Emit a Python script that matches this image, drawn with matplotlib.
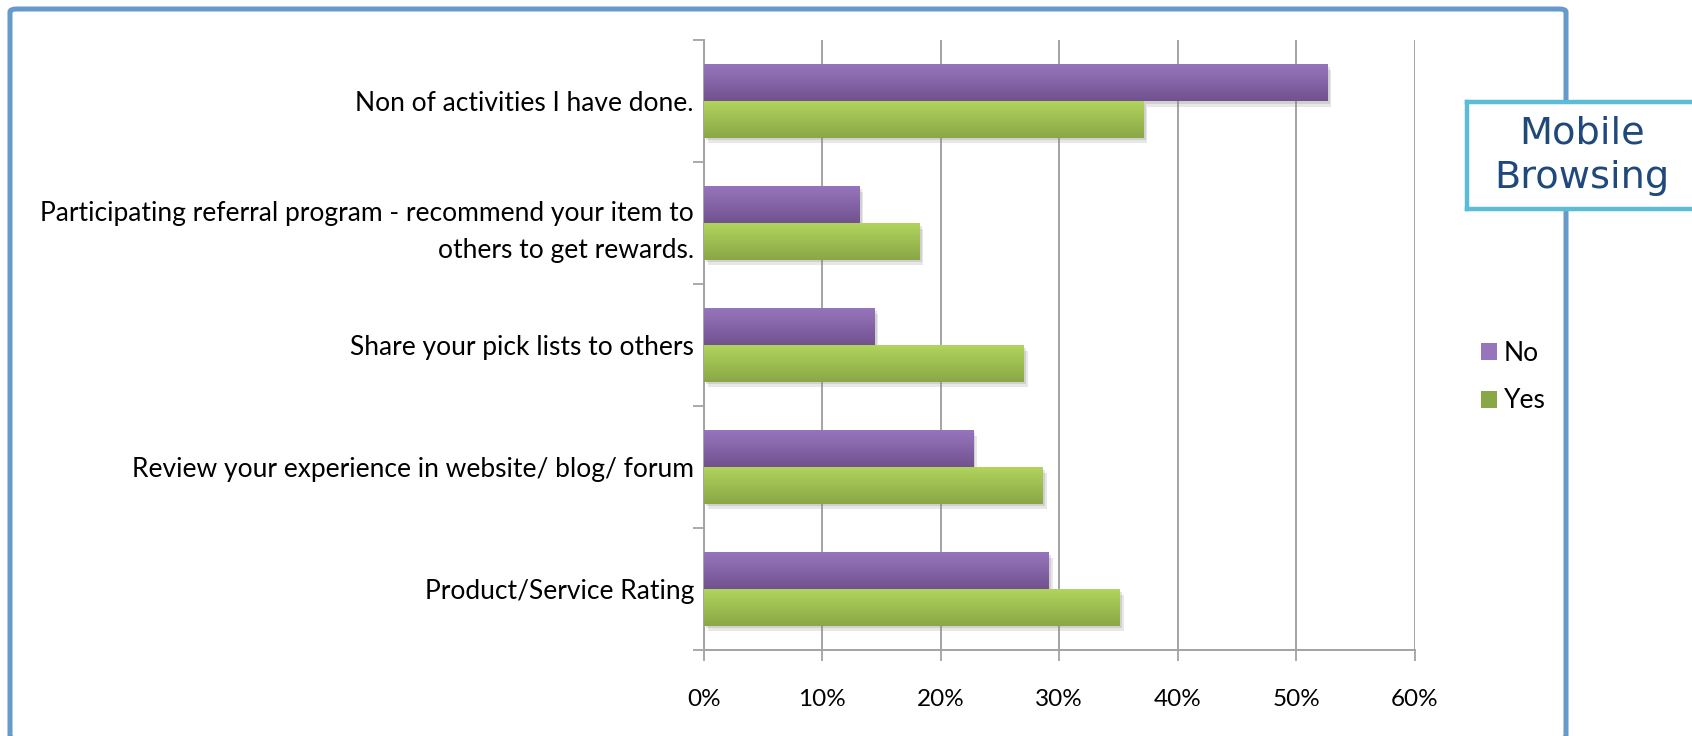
import matplotlib
matplotlib.use("Agg")
import matplotlib.pyplot as plt
import matplotlib.patheffects as pe
from matplotlib.patches import FancyBboxPatch, Rectangle
from matplotlib.lines import Line2D
from matplotlib.colors import LinearSegmentedColormap
import numpy as np

categories = [
    "Non of activities I have done.",
    "Participating referral program - recommend your item to\nothers to get rewards.",
    "Share your pick lists to others",
    "Review your experience in website/ blog/ forum",
    "Product/Service Rating",
]
no_values = [52.6, 13.1, 14.4, 22.7, 29.1]
yes_values = [37.1, 18.2, 27.0, 28.6, 35.1]
series_names = ["No", "Yes"]
xticks = [0, 10, 20, 30, 40, 50, 60]

PURPLE = ("#9775BD", "#71528F")
GREEN = ("#B0D45C", "#8AA747")
GRID = "#A3A3A3"
LABEL_FONT = "Lato"

W, H = 1692, 736
fig = plt.figure(figsize=(W / 100, H / 100), dpi=100)
fig.patch.set_facecolor("white")

# outer blue frame
frame = FancyBboxPatch((10 / W, 1 - 739 / H), 1556 / W, 730 / H,
                       boxstyle="round,pad=0,rounding_size=0.004",
                       transform=fig.transFigure, fill=False,
                       edgecolor="#6699CC", linewidth=3.6, zorder=0)
fig.patches.append(frame)

ax = fig.add_axes([703.6 / W, 1 - 650 / H, 711.1 / W, 610 / H])

y = np.arange(len(categories))
bar_h = 0.30


def gradient_bars(ys, vals, colors):
    cmap = LinearSegmentedColormap.from_list("g", colors)
    bars = ax.barh(ys, vals, height=bar_h, color=colors[0], zorder=3,
                   path_effects=[pe.SimplePatchShadow(offset=(3, -4), shadow_rgbFace="#888888", alpha=0.2),
                                 pe.SimplePatchShadow(offset=(2, -2), shadow_rgbFace="#777777", alpha=0.2),
                                 pe.Normal()])
    for b in bars:
        x0, y0 = b.get_x(), b.get_y()
        w, h = b.get_width(), b.get_height()
        grad = np.linspace(0, 1, 64).reshape(-1, 1)
        im = ax.imshow(grad, cmap=cmap, aspect="auto", zorder=4,
                       extent=(x0, x0 + w, y0 + h, y0), interpolation="bicubic")
        im.set_clip_path(b)
    return bars


gradient_bars(y - bar_h / 2, no_values, PURPLE)
gradient_bars(y + bar_h / 2, yes_values, GREEN)

ax.set_xlim(0, 60)
ax.set_ylim(len(categories) - 0.5, -0.5)
ax.set_aspect("auto")

ax.set_xticks(xticks)
ax.set_xticklabels([f"{t}%" for t in xticks], fontfamily=LABEL_FONT, fontsize=17.5)
ax.tick_params(axis="x", length=8, width=1.3, color=GRID, pad=20)
ax.xaxis.grid(True, color=GRID, linewidth=1.4, zorder=1)
ax.set_axisbelow(True)

# category boundaries get the tick marks, centers carry the labels
ax.set_yticks(np.arange(len(categories) + 1) - 0.5)
ax.set_yticklabels([])
ax.set_yticks(y, minor=True)
ax.set_yticklabels(categories, minor=True, fontfamily=LABEL_FONT, fontsize=19,
                   ha="right", linespacing=1.62)
ax.tick_params(axis="y", which="major", length=8, width=1.3, color=GRID)
ax.tick_params(axis="y", which="minor", length=0, pad=7)

for s in ("top", "right"):
    ax.spines[s].set_visible(False)
for s in ("left", "bottom"):
    ax.spines[s].set_color(GRID)
    ax.spines[s].set_linewidth(1.4)

handles = [Rectangle((0, 0), 1, 1, facecolor=PURPLE[0]),
           Rectangle((0, 0), 1, 1, facecolor=GREEN[1])]
fig.legend(handles, series_names, loc="center left",
           bbox_to_anchor=(1481 / W, 1 - 377 / H), frameon=False,
           prop={"family": LABEL_FONT, "size": 19},
           handlelength=0.62, handleheight=0.62, handletextpad=0.25,
           labelspacing=0.86, borderpad=0, borderaxespad=0)

# title box on the right edge, open where it meets the canvas edge
bx0, by0, by1 = 1467 / W, 1 - 209 / H, 1 - 102 / H
fig.patches.append(Rectangle((bx0, by0), 1.0 - bx0, by1 - by0,
                             transform=fig.transFigure, facecolor="white",
                             edgecolor="none", zorder=5))
for xs, ys in (([bx0, 1.0], [by1, by1]),
               ([bx0, 1.0], [by0, by0]),
               ([bx0, bx0], [by0, by1])):
    fig.add_artist(Line2D(xs, ys, transform=fig.transFigure, color="#5BBCD6",
                          linewidth=3.2, solid_capstyle="projecting", zorder=5.5))
fig.text(1582 / W, 1 - 156 / H, "Mobile\nBrowsing", ha="center", va="center",
         fontfamily="DejaVu Sans", fontsize=27.5, color="#1F497D",
         linespacing=1.3, zorder=6)

fig.savefig("out.png", dpi=100)
